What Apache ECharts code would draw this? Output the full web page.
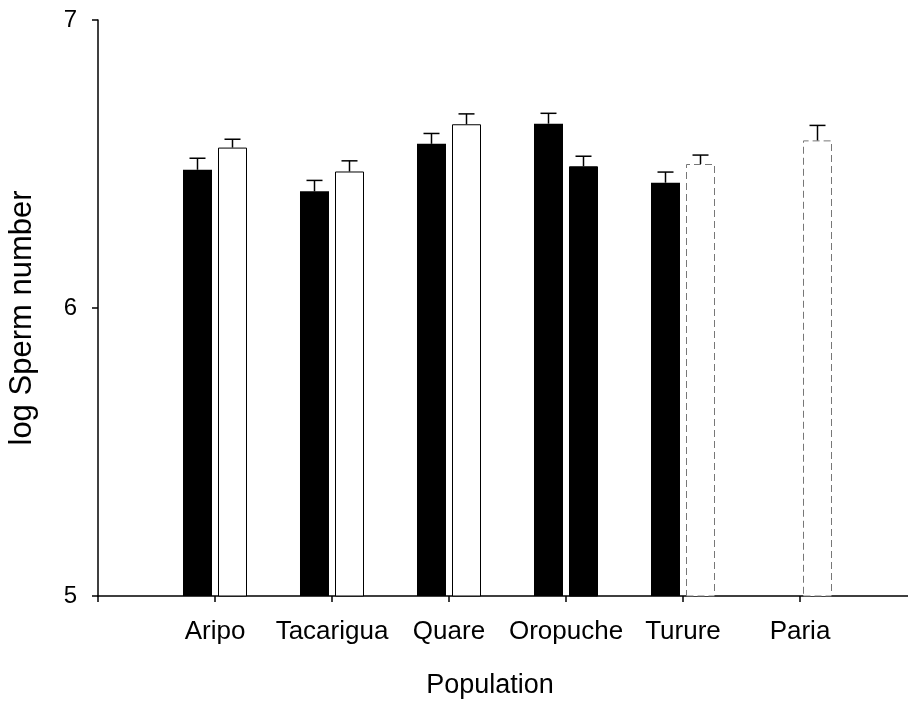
<!DOCTYPE html>
<html>
<head>
<meta charset="utf-8">
<script src="https://cdn.jsdelivr.net/npm/echarts@6/dist/echarts.min.js"></script>
<style>
  html, body { margin: 0; padding: 0; background: #fff; }
  #chart { width: 908px; height: 701px; }
</style>
</head>
<body>
<div id="chart"></div>
<script>
// Populations along the x axis
const categories = ['Aripo', 'Tacarigua', 'Quare', 'Oropuche', 'Turure', 'Paria'];

// Filled bars: mean log sperm number and standard error (no Paria sample)
const filledMeans = [6.48, 6.405, 6.57, 6.64, 6.435, null];
const filledSE    = [0.04, 0.038, 0.036, 0.036, 0.037, null];

// Open bars: mean log sperm number and standard error
const openMeans = [6.557, 6.474, 6.638, 6.492, 6.50, 6.582];
const openSE    = [0.029, 0.037, 0.036, 0.035, 0.031, 0.052];

// Y axis ticks
const yTicks = [5, 6, 7];

const FONT = '"Liberation Sans", Arial, Helvetica, sans-serif';
const BAR_W = 29;
const BAR_GAP_PX = 6;
const HALF_STEP = (BAR_W + BAR_GAP_PX) / 2;

// Pad the category axis with an empty slot on each side so the first
// population sits one step in from the value axis.
const axisCats = [''].concat(categories, ['']);
const pad = arr => [null].concat(arr, [null]);

const filledData = pad(filledMeans).map(v => (v == null ? '-' : v));
const openData = pad(openMeans).map((v, i) => {
  if (v == null) return '-';
  const name = axisCats[i];
  if (name === 'Oropuche') {
    return { value: v, itemStyle: { color: '#000', borderColor: '#000' } };
  }
  if (name === 'Turure' || name === 'Paria') {
    return { value: v, itemStyle: { borderColor: '#777', borderType: [7, 4], borderWidth: 1 } };
  }
  return v;
});

function errData(means, ses) {
  const out = [];
  means.forEach((m, i) => {
    if (m == null) return;
    out.push([i + 1, m, m + ses[i]]);
  });
  return out;
}

function errRenderer(offset) {
  return function (params, api) {
    const x = api.value(0);
    const base = api.coord([x, api.value(1)]);
    const top = api.coord([x, api.value(2)]);
    const cx = base[0] + offset;
    const capHalf = 8;
    const style = { stroke: '#000', lineWidth: 1.5 };
    return {
      type: 'group',
      children: [
        { type: 'line', shape: { x1: cx, y1: base[1], x2: cx, y2: top[1] }, style: style },
        { type: 'line', shape: { x1: cx - capHalf, y1: top[1], x2: cx + capHalf, y2: top[1] }, style: style }
      ]
    };
  };
}

const chart = echarts.init(document.getElementById('chart'), null, { renderer: 'canvas' });

chart.setOption({
  backgroundColor: '#fff',
  animation: false,
  grid: {
    left: 98, top: 20, width: 819, height: 576,
    containLabel: false,
    outerBoundsMode: 'none'
  },
  xAxis: {
    type: 'category',
    data: axisCats,
    boundaryGap: false,
    name: 'Population',
    nameLocation: 'middle',
    nameGap: 76,
    nameTextStyle: { fontFamily: FONT, fontSize: 27, color: '#000', padding: [0, 35, 0, 0] },
    axisLine: { show: true, lineStyle: { color: '#000', width: 1.5 } },
    axisTick: {
      show: true, length: 6, inside: false,
      interval: (idx) => idx < axisCats.length - 1,
      lineStyle: { color: '#000', width: 1.5 }
    },
    axisLabel: { fontFamily: FONT, fontSize: 26, color: '#000', margin: 23, interval: 0 },
    splitLine: { show: false }
  },
  yAxis: {
    type: 'value',
    min: yTicks[0],
    max: yTicks[yTicks.length - 1],
    interval: 1,
    name: 'log Sperm number',
    nameLocation: 'middle',
    nameRotate: 90,
    nameGap: 60,
    nameTextStyle: { fontFamily: FONT, fontSize: 31, color: '#000', padding: [0, 20, 0, 0] },
    axisLine: { show: true, lineStyle: { color: '#000', width: 1.5 } },
    axisTick: { show: true, length: 6, inside: false, lineStyle: { color: '#000', width: 1.5 } },
    axisLabel: { fontFamily: FONT, fontSize: 24, color: '#000', margin: 21 },
    splitLine: { show: false }
  },
  series: [
    {
      name: 'Filled',
      type: 'bar',
      data: filledData,
      barWidth: BAR_W,
      barGap: (BAR_GAP_PX / BAR_W * 100).toFixed(1) + '%',
      itemStyle: { color: '#000' },
      z: 2
    },
    {
      name: 'Open',
      type: 'bar',
      data: openData,
      barWidth: BAR_W,
      itemStyle: { color: '#fff', borderColor: '#000', borderWidth: 1 },
      z: 2
    },
    {
      type: 'custom',
      data: errData(filledMeans, filledSE),
      renderItem: errRenderer(-HALF_STEP),
      z: 3
    },
    {
      type: 'custom',
      data: errData(openMeans, openSE),
      renderItem: errRenderer(HALF_STEP),
      z: 3
    }
  ]
});
</script>
</body>
</html>
